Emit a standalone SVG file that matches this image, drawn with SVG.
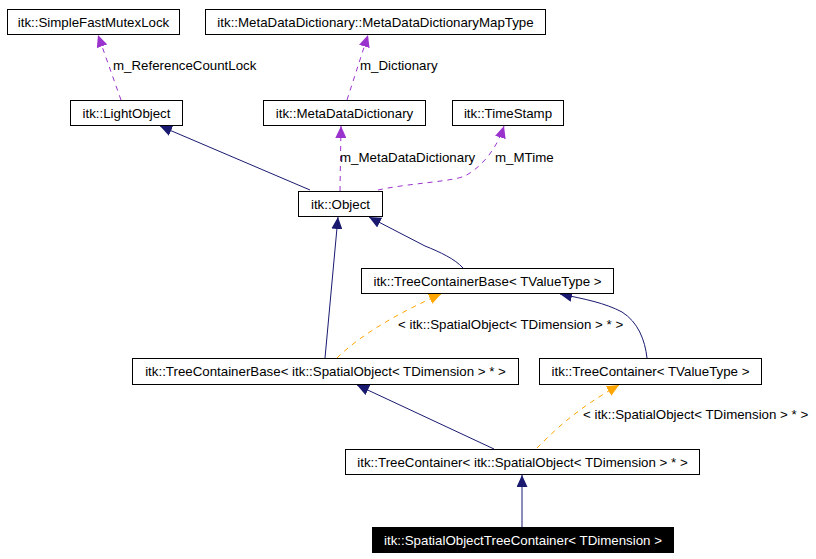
<svg xmlns="http://www.w3.org/2000/svg" width="816" height="559" viewBox="0 0 816 559">
<style>
  text { font-family: "Liberation Sans", Arial, sans-serif; font-size: 13.3px; fill: #000; }
  .n rect { fill: #fff; stroke: #000; stroke-width: 1; }
  .n text { text-anchor: middle; }
  .hl rect { fill: #000; stroke: #000; }
  .hl text { fill: #fff; }
  .inh { fill: none; stroke: #191970; stroke-width: 1; marker-end: url(#aNavy); }
  .mem { fill: none; stroke: #9a32cd; stroke-width: 1; stroke-dasharray: 5,5; marker-end: url(#aPurple); }
  .tpl { fill: none; stroke: #ffa500; stroke-width: 1; stroke-dasharray: 5,5; marker-end: url(#aOrange); }
</style>
<defs>
  <marker id="aNavy" markerUnits="userSpaceOnUse" markerWidth="12" markerHeight="11" refX="12" refY="5.5" orient="auto">
    <path d="M0,0 L12,5.5 L0,11 z" fill="#191970"/>
  </marker>
  <marker id="aPurple" markerUnits="userSpaceOnUse" markerWidth="12" markerHeight="11" refX="12" refY="5.5" orient="auto">
    <path d="M0,0 L12,5.5 L0,11 z" fill="#9a32cd"/>
  </marker>
  <marker id="aOrange" markerUnits="userSpaceOnUse" markerWidth="12" markerHeight="11" refX="12" refY="5.5" orient="auto">
    <path d="M0,0 L12,5.5 L0,11 z" fill="#ffa500"/>
  </marker>
</defs>
<rect width="816" height="559" fill="#fff"/>

<g id="connectors">
  <path class="mem" d="M121,100 L98,35"/>
  <path class="mem" d="M347,100 L368,35"/>
  <path class="mem" d="M340,191 L341,126"/>
  <path class="mem" d="M378,190 C410,183 450,182 465,176 C485,165 498,145 504,126"/>
  <path class="inh" d="M310,190 L160,126"/>
  <path class="inh" d="M463,268 C455,259 440,252 425,246 L369,217"/>
  <path class="inh" d="M325,358 L338,217"/>
  <path class="tpl" d="M337,358 C360,335 400,312 441,294"/>
  <path class="inh" d="M647,358 C645,340 638,322 622,312 C605,303 585,299 560,294"/>
  <path class="inh" d="M494,449 L357,385"/>
  <path class="tpl" d="M537,448 C555,430 575,410 619,385"/>
  <path class="inh" d="M522,527 L522,475"/>
  <text x="113" y="70">m_ReferenceCountLock</text>
  <text x="360" y="70">m_Dictionary</text>
  <text x="340" y="162">m_MetaDataDictionary</text>
  <text x="495" y="162">m_MTime</text>
  <text x="398" y="329">&lt; itk::SpatialObject&lt; TDimension &gt; * &gt;</text>
  <text x="583" y="419">&lt; itk::SpatialObject&lt; TDimension &gt; * &gt;</text>
</g>

<g id="SimpleFastMutexLock" class="n">
  <rect x="7.5" y="9.5" width="172" height="25"/>
  <text x="93.5" y="26.5">itk::SimpleFastMutexLock</text>
</g>
<g id="MetaDataDictionaryMapType" class="n">
  <rect x="205.5" y="9.5" width="340" height="25"/>
  <text x="375.5" y="26.5">itk::MetaDataDictionary::MetaDataDictionaryMapType</text>
</g>
<g id="LightObject" class="n">
  <rect x="70.5" y="100.5" width="112" height="25"/>
  <text x="126.5" y="117.5">itk::LightObject</text>
</g>
<g id="MetaDataDictionary" class="n">
  <rect x="263.5" y="100.5" width="162" height="25"/>
  <text x="344.5" y="117.5">itk::MetaDataDictionary</text>
</g>
<g id="TimeStamp" class="n">
  <rect x="452.5" y="100.5" width="111" height="25"/>
  <text x="508" y="117.5">itk::TimeStamp</text>
</g>
<g id="Object" class="n">
  <rect x="298.5" y="191.5" width="84" height="25"/>
  <text x="340.5" y="208.5">itk::Object</text>
</g>
<g id="TreeContainerBaseTValueType" class="n">
  <rect x="361.5" y="268.5" width="252" height="25"/>
  <text x="487.5" y="285.5">itk::TreeContainerBase&lt; TValueType &gt;</text>
</g>
<g id="TreeContainerBaseSpatial" class="n">
  <rect x="132.5" y="358.5" width="386" height="26"/>
  <text x="325.5" y="376">itk::TreeContainerBase&lt; itk::SpatialObject&lt; TDimension &gt; * &gt;</text>
</g>
<g id="TreeContainerTValueType" class="n">
  <rect x="539.5" y="358.5" width="222" height="26"/>
  <text x="650.5" y="376">itk::TreeContainer&lt; TValueType &gt;</text>
</g>
<g id="TreeContainerSpatial" class="n">
  <rect x="345.5" y="449.5" width="354" height="25"/>
  <text x="522.5" y="466.5">itk::TreeContainer&lt; itk::SpatialObject&lt; TDimension &gt; * &gt;</text>
</g>
<g id="SpatialObjectTreeContainer" class="n hl">
  <rect x="372.5" y="527.5" width="301" height="25"/>
  <text x="523" y="544.5">itk::SpatialObjectTreeContainer&lt; TDimension &gt;</text>
</g>
</svg>
